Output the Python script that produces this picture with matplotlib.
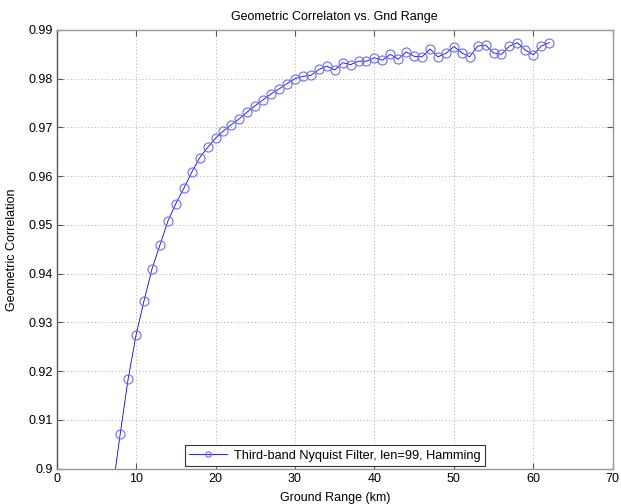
import numpy as np
import matplotlib
matplotlib.use("Agg")
import matplotlib.pyplot as plt
from matplotlib.ticker import FuncFormatter

plt.rcParams.update({"font.family": "Liberation Sans", "font.size": 9})

ground_range = list(range(7, 63))
geo_corr = [0.8952, 0.9072, 0.9185, 0.9275, 0.9345, 0.9410, 0.9459, 0.9508, 0.9544,
            0.9575, 0.9608, 0.9638, 0.9659, 0.9678, 0.9693, 0.9706, 0.9718, 0.9732,
            0.9745, 0.9757, 0.9769, 0.9779, 0.9790, 0.9800, 0.9805, 0.9807, 0.9819,
            0.9826, 0.9818, 0.9833, 0.9829, 0.9836, 0.9836, 0.9843, 0.9838, 0.9850,
            0.9840, 0.9855, 0.9846, 0.9845, 0.9861, 0.9845, 0.9852, 0.9866, 0.9853,
            0.9845, 0.9867, 0.9869, 0.9853, 0.9850, 0.9867, 0.9874, 0.9859, 0.9849,
            0.9867, 0.9874]
legend_label = "Third-band Nyquist Filter, len=99, Hamming"

fig = plt.figure(figsize=(6.21, 5.04), dpi=100)
ax = fig.add_axes([0.0913, 0.070, 0.8953, 0.8705])
ax.plot(ground_range, geo_corr, color="#0000ff", linewidth=0.6, marker="o",
        markersize=6.5, markerfacecolor="none", markeredgecolor="#6b6bff",
        markeredgewidth=0.8, label=legend_label)

ax.set_xlim(0, 70)
ax.set_ylim(0.9, 0.99)
ax.set_xticks(np.arange(0, 71, 10))
ax.set_yticks(np.arange(0.9, 0.9901, 0.01))
ax.yaxis.set_major_formatter(FuncFormatter(lambda v, p: f"{v:.2f}".rstrip("0")))
ax.tick_params(direction="in", length=4, width=0.8, color="#555555", labelsize=9,
               top=True, right=True, pad=3)
for s in ax.spines.values():
    s.set_color("#999999")
    s.set_linewidth(1.0)
ax.spines["left"].set_color("#555555")
ax.grid(True, linestyle=(0, (1, 2.5)), color="#aaaaaa", linewidth=0.7)

ax.set_title("Geometric Correlaton vs. Gnd Range", fontsize=9, pad=7)
ax.set_xlabel("Ground Range (km)", fontsize=9, labelpad=5)
ax.set_ylabel("Geometric Correlation", fontsize=9, labelpad=7)

leg = ax.legend(loc="lower center", fontsize=9.2, fancybox=False, framealpha=1,
                edgecolor="#333333", borderaxespad=0.2, handlelength=3.0,
                borderpad=0.35, markerscale=0.6, handletextpad=0.5)
leg.get_frame().set_linewidth(0.8)

fig.savefig("out.png", dpi=100)
